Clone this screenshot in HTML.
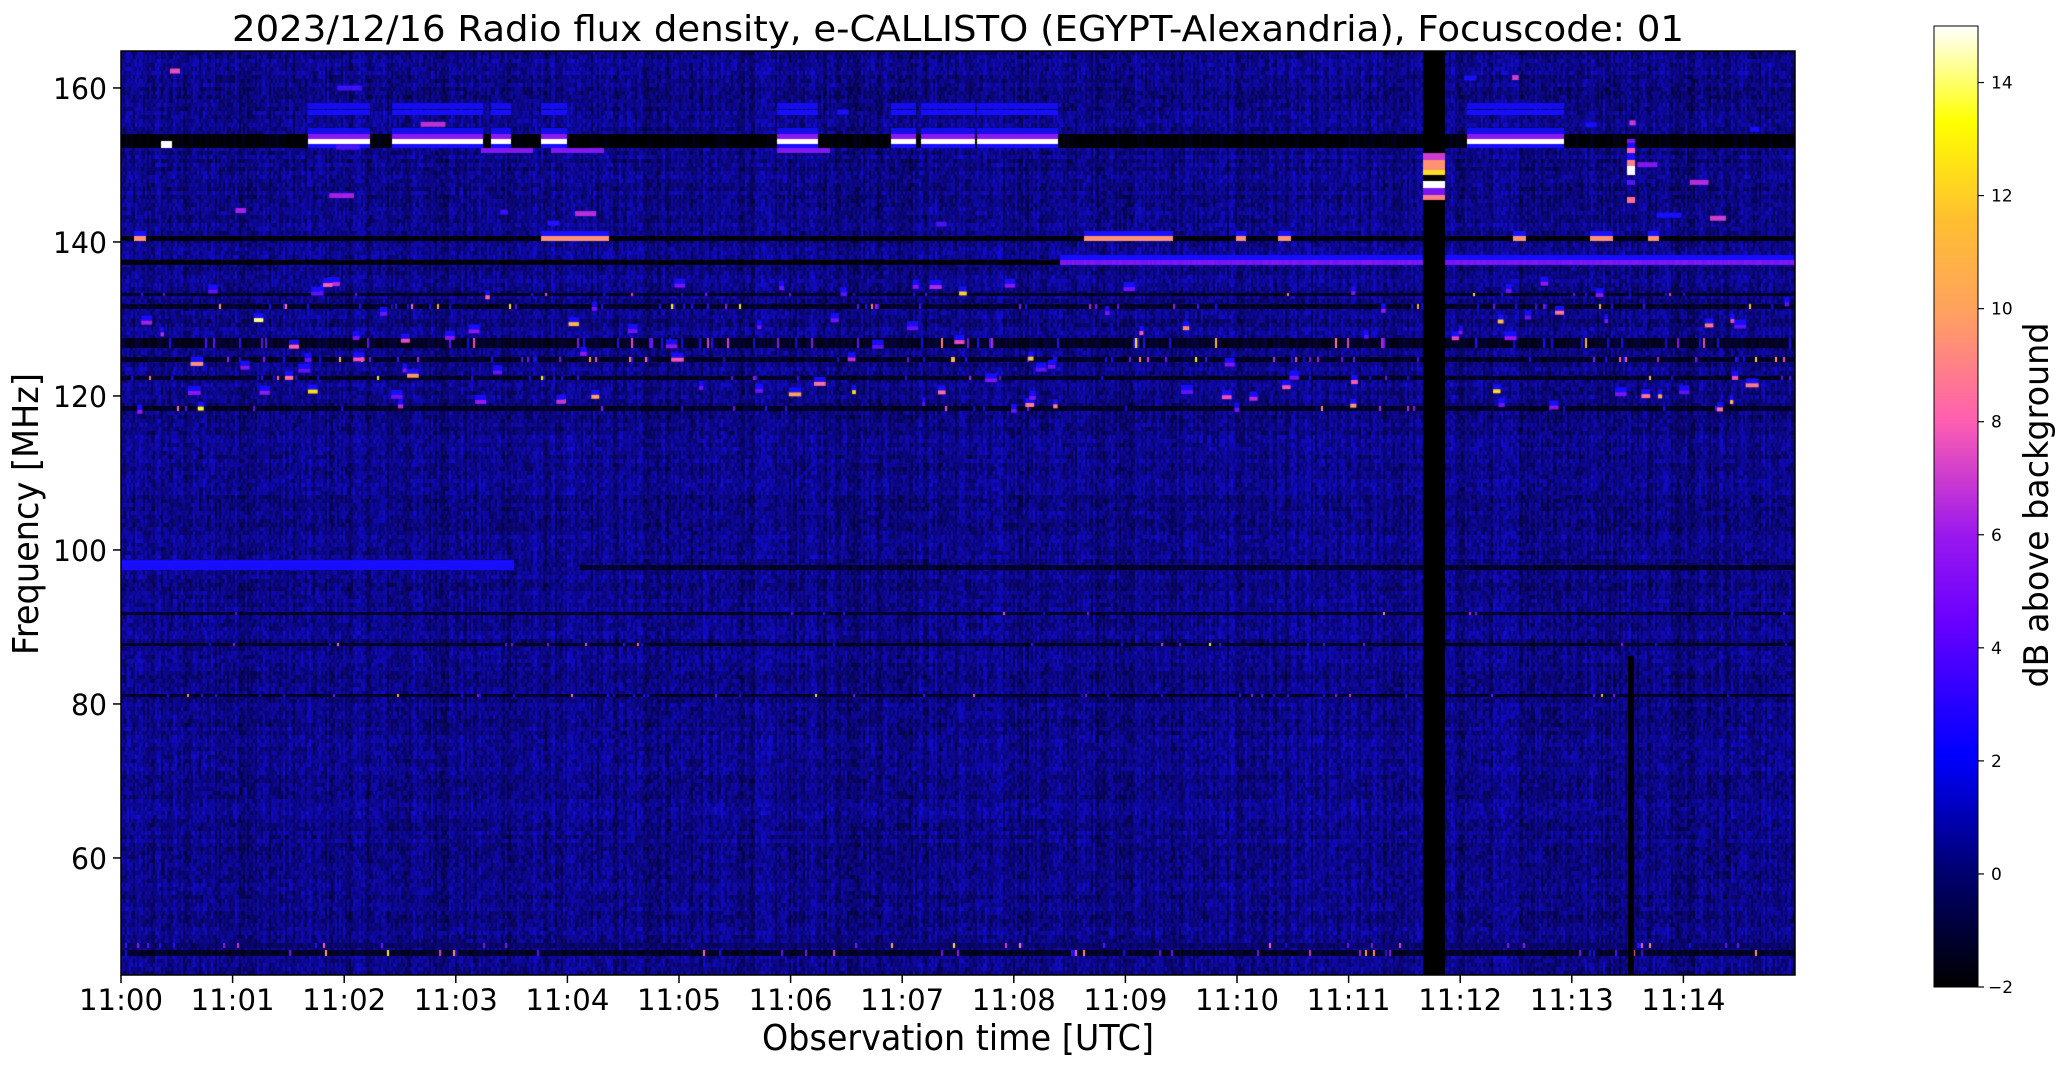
<!DOCTYPE html>
<html><head><meta charset="utf-8"><style>
html,body{margin:0;padding:0;background:#fff;}
#wrap{position:relative;width:2066px;height:1067px;overflow:hidden;background:#fff;}
canvas{position:absolute;left:121px;top:51px;}
svg{position:absolute;left:0;top:0;}
</style></head><body><div id="wrap">
<canvas id="c" width="1674" height="924"></canvas>
<svg width="2066" height="1067" xmlns="http://www.w3.org/2000/svg" font-family="DejaVu Sans, Liberation Sans, sans-serif">
<defs><linearGradient id="cm" x1="0" y1="1" x2="0" y2="0">
<stop offset="0" stop-color="#000000"/><stop offset="0.12" stop-color="#000070"/><stop offset="0.24" stop-color="#0000ff"/><stop offset="0.3" stop-color="#2a00ff"/><stop offset="0.38" stop-color="#6a00ff"/><stop offset="0.47" stop-color="#9a18ee"/><stop offset="0.59" stop-color="#ff5fb0"/><stop offset="0.7" stop-color="#ffa060"/><stop offset="0.8" stop-color="#ffc030"/><stop offset="0.9" stop-color="#ffff00"/><stop offset="1" stop-color="#ffffff"/>
</linearGradient></defs>
<text x="958" y="41" font-size="36" text-anchor="middle" textLength="1452" lengthAdjust="spacingAndGlyphs">2023/12/16  Radio flux density, e-CALLISTO (EGYPT-Alexandria), Focuscode: 01</text>
<g id="xt" stroke="#000" stroke-width="1.5"></g>
<g id="xl" font-size="29" text-anchor="middle"></g>
<g id="yt" stroke="#000" stroke-width="1.5"></g>
<g id="yl" font-size="29" text-anchor="end"></g>
<text x="958" y="1050" font-size="36" text-anchor="middle" textLength="392" lengthAdjust="spacingAndGlyphs">Observation time [UTC]</text>
<text transform="translate(38,514) rotate(-90)" font-size="36" text-anchor="middle" textLength="282" lengthAdjust="spacingAndGlyphs">Frequency [MHz]</text>
<rect x="1934" y="26" width="44" height="961" fill="url(#cm)" stroke="#000" stroke-width="1"/>
<g id="ct" stroke="#000" stroke-width="1.2"></g>
<g id="cl" font-size="17"></g>
<text transform="translate(2048,505) rotate(-90)" font-size="34" text-anchor="middle" textLength="365" lengthAdjust="spacingAndGlyphs">dB above background</text>
<rect x="121" y="51" width="1674" height="924" fill="none" stroke="#000" stroke-width="1.5"/>
</svg>
</div>
<script>
var NS="http://www.w3.org/2000/svg";
function el(p,t,a,txt){var e=document.createElementNS(NS,t);for(var k in a)e.setAttribute(k,a[k]);if(txt!==undefined)e.textContent=txt;document.getElementById(p).appendChild(e);}
for(var i=0;i<15;i++){var x=121+i*111.6;el("xt","line",{x1:x,y1:975,x2:x,y2:983});el("xl","text",{x:x,y:1010,textLength:84,lengthAdjust:"spacingAndGlyphs"},"11:"+(i<10?"0":"")+i);}
for(var f=60;f<=160;f+=20){var y=51+(164.8-f)*7.7;el("yt","line",{x1:113,y1:y,x2:121,y2:y});el("yl","text",{x:107,y:y+11,textLength:f>=100?54:36,lengthAdjust:"spacingAndGlyphs"},""+f);}
for(var v=-2;v<=14;v+=2){var y=987-(v+2)*56.53;el("ct","line",{x1:1978,y1:y,x2:1984,y2:y});el("cl","text",{x:v<0?1988:1991,y:y+6},v<0?"\u22122":""+v);}
var c=document.getElementById("c").getContext("2d");
var s=12345;function R(){s=(s*1103515245+12345)&0x7fffffff;return s/0x7fffffff;}
function lerp(a,b,t){return a+(b-a)*t;}
function pw(t,pts){if(t<=pts[0][0])return pts[0][1];for(var i=1;i<pts.length;i++){if(t<=pts[i][0]){var a=pts[i-1],b=pts[i];return lerp(a[1],b[1],(t-a[0])/(b[0]-a[0]));}}return pts[pts.length-1][1];}
function col(v){var t=Math.max(0,Math.min(1,(v+2)/17));
var r=pw(t,[[0,0],[0.28,0.1],[0.38,0.42],[0.47,0.6],[0.59,1],[1,1]]),g=pw(t,[[0,0],[0.47,0.1],[0.59,0.37],[0.7,0.63],[0.9,1],[1,1]]),b=pw(t,[[0,0],[0.24,1],[0.47,0.93],[0.59,0.69],[0.7,0.38],[0.9,0],[1,1]]);
return "rgb("+Math.round(r*255)+","+Math.round(g*255)+","+Math.round(b*255)+")";}
var W=1674,H=924;
function X(m){return m*111.6;}function Y(f){return (164.8-f)*7.7;}
var cw=2,rh=4;
var colN=[];for(var x=0;x<W;x+=cw)colN.push(R());
for(var y=0;y<H;y+=rh){var rowN=R();for(var xi=0;xi*cw<W;xi++){var v=0.15+1.5*(R()-0.5)+1.1*(colN[xi]-0.5)+0.5*(rowN-0.5);c.fillStyle=col(v);c.fillRect(xi*cw,y,cw,rh);}}
function rect(x1,y1,x2,y2,v){c.fillStyle=typeof v=="string"?v:col(v);c.fillRect(x1,y1,x2-x1,y2-y1);}
function A(x){return x-121;}function B(y){return y-51;}
function hline(y1,y2,x1,x2,base,dots,dotp){for(var x=x1;x<x2;x+=cw){var v=base+0.8*(R()-0.5);if(dots&&R()<dotp)v=1.5+R()*R()*13;rect(x,y1,x+cw,y2,v);}}
// subtle chevron texture
c.lineWidth=4;
for(var k=0;k<140;k++){var x0=R()*W,y0=Y(115)+R()*(Y(50)-Y(115));c.strokeStyle="rgba(10,10,200,0.25)";c.beginPath();c.moveTo(x0,y0);c.lineTo(x0+45,y0-35);c.stroke();}
hline(B(134),B(148),0,W,-1.9,false,0);
var segs=[[308,370],[392,483],[491,511],[541,567],[777,818],[891,916],[921,975],[977,1058],[1467,1564]];
segs.forEach(function(s){rect(A(s[0]),B(103),A(s[1]),B(109),1.8);rect(A(s[0]),B(110),A(s[1]),B(115),2.4);rect(A(s[0]),B(128),A(s[1]),B(134),1.8);rect(A(s[0]),B(134),A(s[1]),B(139),5.5);rect(A(s[0]),B(139),A(s[1]),B(144),15);rect(A(s[0]),B(144),A(s[1]),B(148),2.2);});
rect(A(161),B(141),A(172),B(148),15);
[[481,533],[551,604],[777,830]].forEach(function(s){rect(A(s[0]),B(148),A(s[1]),B(153),5.2);});
hline(B(236),B(241),0,W,-1.8,false,0);
[[134,146],[541,609],[1084,1173],[1236,1246],[1278,1291],[1513,1526],[1590,1613],[1648,1659]].forEach(function(s){rect(A(s[0]),B(231),A(s[1]),B(236),2.3);rect(A(s[0]),B(236),A(s[1]),B(241),9.5);});
hline(B(260),B(265),0,A(1060),-1.9,false,0);
rect(A(1060),B(255),W,B(260),2.2);hline(B(260),B(265),A(1060),W,5.0,false,0);
[[304,309,0.05],[338,348,0.07],[357,362,0.06],[406,411,0.04],[694,697,0.05],[950,956,0.04],[376,380,0.03],[293,296,0.02],[643,646,0.02],[612,615,0.02]].forEach(function(l){hline(B(l[0]),B(l[1]),0,W,-1.4,true,l[2]);});
for(var k=0;k<110;k++){var x=R()*W,f=118+R()*17,w=3+R()*10;var y=Y(f);rect(x,y-5,x+w,y,2.2);rect(x,y,x+w,y+4,4+R()*R()*11);}
for(var k=0;k<20;k++){var x=R()*W,f=142+R()*22,w=6+R()*20;var y=Y(f);rect(x,y,x+w,y+5,2+R()*6);}
rect(0,B(560),A(514),B(570),2.5);hline(B(565),B(570),A(580),W,-1.3,false,0);
hline(B(943),B(948),0,W,-0.3,true,0.04);
rect(A(1423),0,A(1445),H,"#000");
[[153,160,7],[160,170,9.5],[170,175,12],[181,188,15],[188,195,5],[195,200,9]].forEach(function(b){rect(A(1423),B(b[0]),A(1445),B(b[1]),b[2]);});
[[139,143,5],[143,148,2.5],[148,153,8],[153,160,2.5],[160,166,9],[166,175,15],[180,185,4],[197,203,8.5]].forEach(function(b){rect(A(1627),B(b[0]),A(1635),B(b[1]),b[2]);});
rect(A(1628),B(656),A(1634),H,"#000");
</script>
</body></html>
